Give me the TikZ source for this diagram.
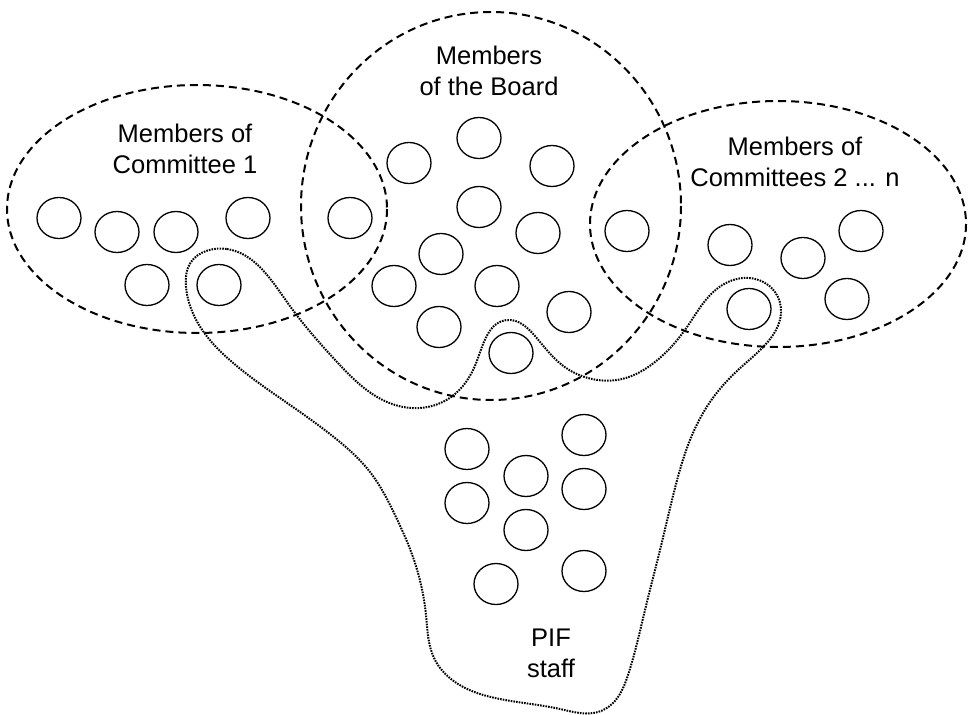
\documentclass[tikz,border=0pt]{standalone}
\usepackage{fontspec}
\setmainfont{Liberation Sans}
\usetikzlibrary{shapes.geometric,hobby}
\begin{document}
\begin{tikzpicture}[x=1pt,y=-1pt,
  member/.style={ellipse, draw=black, line width=1.3pt, minimum width=44pt, minimum height=41pt, inner sep=0pt},
  groupline/.style={draw=black, line width=2pt, dash pattern=on 8pt off 5pt},
  staffline/.style={draw=black, line width=2pt, dash pattern=on 1.6pt off 1.1pt},
  grouplabel/.style={font=\fontsize{25.5}{31}\selectfont, align=center, inner sep=0pt}]
\useasboundingbox (0,0) rectangle (968,714);

% group outlines
\draw[groupline] (197,209) ellipse [x radius=190, y radius=124];
\draw[groupline] (491,206) ellipse [x radius=190, y radius=194];
\draw[groupline] (778,224) ellipse [x radius=188, y radius=123];

% PIF staff outline
\draw[staffline] plot[closed hobby] coordinates {
  (227,249) (287,302) (337,362) (387,402) (420,408) (455,394) (478,358)
  (507,320) (535,336) (562,365) (592,379) (622,379) (655,362) (687,327)
  (718,288) (749,278) (775,292) (781,313) (765,345) (738,370) (710,402)
  (690,440) (674,492) (660,550) (645,610) (628,675) (612,704) (598,712)
  (560,709) (500,699) (455,682) (434,658) (426,615) (414,560) (395,515)
  (370,472) (335,438) (280,398) (232,362) (199,325) (186,287) (191,262)
  (206,251)};

% labels
\node[grouplabel] (lc1) at (185,149) {Members of\\Committee 1};
\node[grouplabel] (lbd) at (489,71) {Members\\of the Board};
\node[grouplabel] (lcn) at (795,162) {Members of\\Committees 2 ... n};
\node[grouplabel] (lpif) at (551,653) {PIF\\staff};

% Committee 1 members
\node[member] (c1) at (59,218) {};
\node[member] (c2) at (117,232) {};
\node[member] (c3) at (176,232) {};
\node[member] (c4) at (248,218) {};
\node[member] (c5) at (147,285) {};
\node[member] (c6) at (219,285) {};

% Board members
\node[member] (b1) at (350,218) {};
\node[member] (b2) at (479,138) {};
\node[member] (b3) at (409,163) {};
\node[member] (b4) at (552,166) {};
\node[member] (b5) at (479,207) {};
\node[member] (b6) at (538,233) {};
\node[member] (b7) at (441,254) {};
\node[member] (b8) at (394,286) {};
\node[member] (b9) at (497,286) {};
\node[member] (b10) at (569,312) {};
\node[member] (b11) at (439,327) {};
\node[member] (b12) at (511,353) {};
\node[member] (b13) at (627,231) {};

% Committees 2 ... n members
\node[member] (n1) at (730,245) {};
\node[member] (n2) at (803,258) {};
\node[member] (n3) at (861,231) {};
\node[member] (n4) at (847,299) {};
\node[member] (n5) at (749,309) {};

% PIF staff members
\node[member] (s1) at (467,449) {};
\node[member] (s2) at (584,435) {};
\node[member] (s3) at (526,476) {};
\node[member] (s4) at (467,503) {};
\node[member] (s5) at (584,489) {};
\node[member] (s6) at (526,530) {};
\node[member] (s7) at (496,584) {};
\node[member] (s8) at (584,571) {};
\end{tikzpicture}
\end{document}
